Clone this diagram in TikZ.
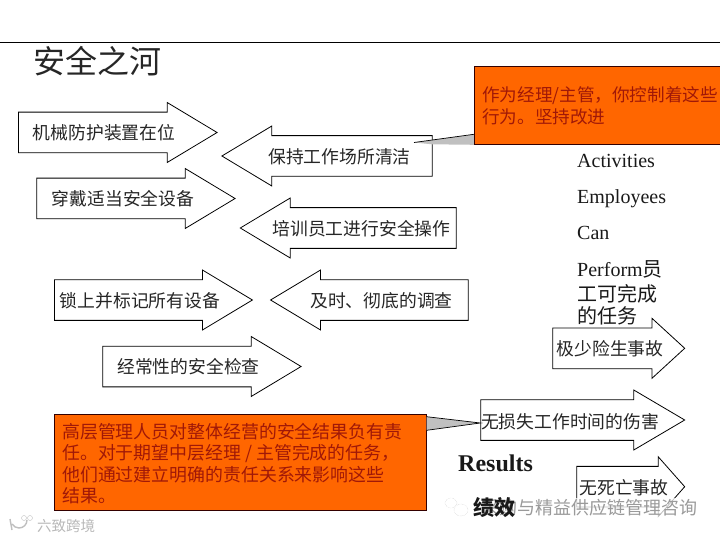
\documentclass[tikz,border=0pt]{standalone}
\usepackage{fontspec}
\setmainfont{Liberation Serif}
\newfontfamily\cjk{Noto Sans CJK SC}
\usepackage{xcolor}
\usetikzlibrary{shapes.arrows}
\definecolor{calloutorange}{HTML}{FF6600}
\definecolor{callouttext}{HTML}{A01808}
\definecolor{calloutgray}{HTML}{C0C0C0}
\definecolor{markgray}{HTML}{9A9A9A}

\begin{document}
\begin{tikzpicture}[
    x=1pt, y=-1pt,
    flowarrow/.style={draw=black, fill=white, single arrow, line width=0.8pt, anchor=tail,
                      inner xsep=0pt, inner ysep=14.6pt, minimum width=60pt,
                      single arrow head indent=0pt, single arrow tip angle=62},
    leftarrow/.style={flowarrow, shape border rotate=180},
    arrowtext/.style={font=\fontsize{17.8}{20}\selectfont\cjk, text=black!85, inner sep=0pt},
    callout/.style={draw=black!80!red, fill=calloutorange, line width=0.8pt, inner sep=0pt},
    boxtext/.style={font=\fontsize{17.6}{21.5}\selectfont\cjk, text=callouttext,
                    align=left, inner sep=0pt, anchor=north west},
    sidetext/.style={font=\fontsize{20}{24}\selectfont, text=black!90, inner sep=0pt, anchor=base west},
    watermark/.style={text=markgray, inner sep=0pt}
  ]
    \useasboundingbox (0,0) rectangle (720,540);
    \draw[line width=0.8pt] (0,42) -- (720,42);
    \node[font=\fontsize{32}{36}\selectfont\cjk, text=black!85, inner sep=0pt, anchor=west] (title) at (33,61) {安全之河};

    % activities
    \node[flowarrow, minimum height=198.7pt] (guard) at (18,132.5) {};
    \node[arrowtext] (guardtext) at (104,132.5) {机械防护装置在位};
    \node[flowarrow, minimum height=198.4pt] (gear) at (36.3,198.5) {};
    \node[arrowtext] (geartext) at (123,198.5) {穿戴适当安全设备};
    \node[flowarrow, minimum height=198pt] (lock) at (54,300) {};
    \node[arrowtext] (locktext) at (140,301) {锁上并标记所有设备};
    \node[flowarrow, minimum height=198.4pt] (check) at (102.3,366.5) {};
    \node[arrowtext] (checktext) at (188.5,366.5) {经常性的安全检查};

    \node[leftarrow, minimum height=210.4pt] (clean) at (432.7,156) {};
    \node[arrowtext] (cleantext) at (339.5,156.5) {保持工作场所清洁};
    \node[leftarrow, minimum height=216pt] (train) at (456.7,228) {};
    \node[arrowtext] (traintext) at (361.5,228.5) {培训员工进行安全操作};
    \node[leftarrow, minimum height=197.7pt] (probe) at (468.7,300) {};
    \node[arrowtext] (probetext) at (381.5,301) {及时、彻底的调查};

    % results
    \node[flowarrow, single arrow tip angle=85, minimum height=132pt] (nearmiss) at (552.3,348.3) {};
    \node[arrowtext] (nearmisstext) at (610,349) {极少险生事故};
    \node[flowarrow, single arrow tip angle=61, minimum height=204pt] (injury) at (480.3,420) {};
    \node[arrowtext] (injurytext) at (570,421.5) {无损失工作时间的伤害};
    \node[flowarrow, single arrow tip angle=97, minimum height=108pt] (fatal) at (576.3,486.7) {};
    \node[arrowtext] (fataltext) at (624,488) {无死亡事故};

    % callouts
    \node[callout, minimum width=250pt, minimum height=78.4pt] (topbox) at (599.3,105.2) {};
    \coordinate (toptip) at (414,142.5);
    \fill[calloutgray] (toptip) -- (topbox.west |- 0,134.3) -- (topbox.south west) -- (432,144.3) -- cycle;
    \draw[line width=0.7pt] (toptip) -- (topbox.west |- 0,134.3);
    \node[boxtext] (toptext) at (482,86.5) {作为经理/主管，你控制着这些\\行为。坚持改进};

    \node[callout, minimum width=372pt, minimum height=96pt] (lowbox) at (240.3,462.3) {};
    \coordinate (lowtip) at (480.3,423);
    \fill[calloutgray] (lowtip) -- (lowbox.east |- 0,416.7) -- (lowbox.east |- 0,430.3) -- cycle;
    \draw[line width=0.7pt] (lowbox.east |- 0,416.7) -- (lowtip) -- (lowbox.east |- 0,430.3);
    \node[boxtext, font=\fontsize{17.9}{21.5}\selectfont\cjk] (lowtext) at (62,423) {高层管理人员对整体经营的安全结果负有责\\任。对于期望中层经理 / 主管完成的任务，\\他们通过建立明确的责任关系来影响这些\\结果。};

    % side labels
    \node[sidetext] (act) at (577,167.5) {Activities};
    \node[sidetext] (emp) at (577,203.2) {Employees};
    \node[sidetext] (can) at (577,239.5) {Can};
    \node[sidetext] (perf) at (577,276) {Perform{\cjk 员}};
    \node[sidetext, font=\fontsize{20}{24}\selectfont\cjk] (perf2) at (577,301) {工可完成};
    \node[sidetext, font=\fontsize{20}{24}\selectfont\cjk] (perf3) at (577,323) {的任务};
    \node[sidetext, font=\fontsize{24}{28}\selectfont\bfseries] (res) at (458,471.5) {Results};

    % marks on the picture
    \node[watermark, fill=white, fill opacity=0.75, text opacity=1, anchor=west, minimum height=20pt, font=\fontsize{18}{20}\selectfont\cjk] (mark1) at (481,508) {采购与精益供应链管理咨询};
    \draw[markgray!60, densely dotted] (461,510) ellipse (7pt and 6pt) (451,503) ellipse (6pt and 5pt);
    \node[sidetext, anchor=west, font=\fontsize{21}{24}\selectfont\cjk\bfseries] (res2) at (473,508) {绩效};
    \node[watermark, anchor=west, font=\fontsize{14.5}{16}\selectfont\cjk, text=black!28] (mark2) at (37,526) {六致跨境};
    \draw[black!25, line width=1.4pt] (10,519) -- (12,530) (27,520) arc (0:-150:8pt);
    \draw[black!25] (24,518) circle (2.5pt) (30,518) circle (2.5pt);
  \end{tikzpicture}
\end{document}
